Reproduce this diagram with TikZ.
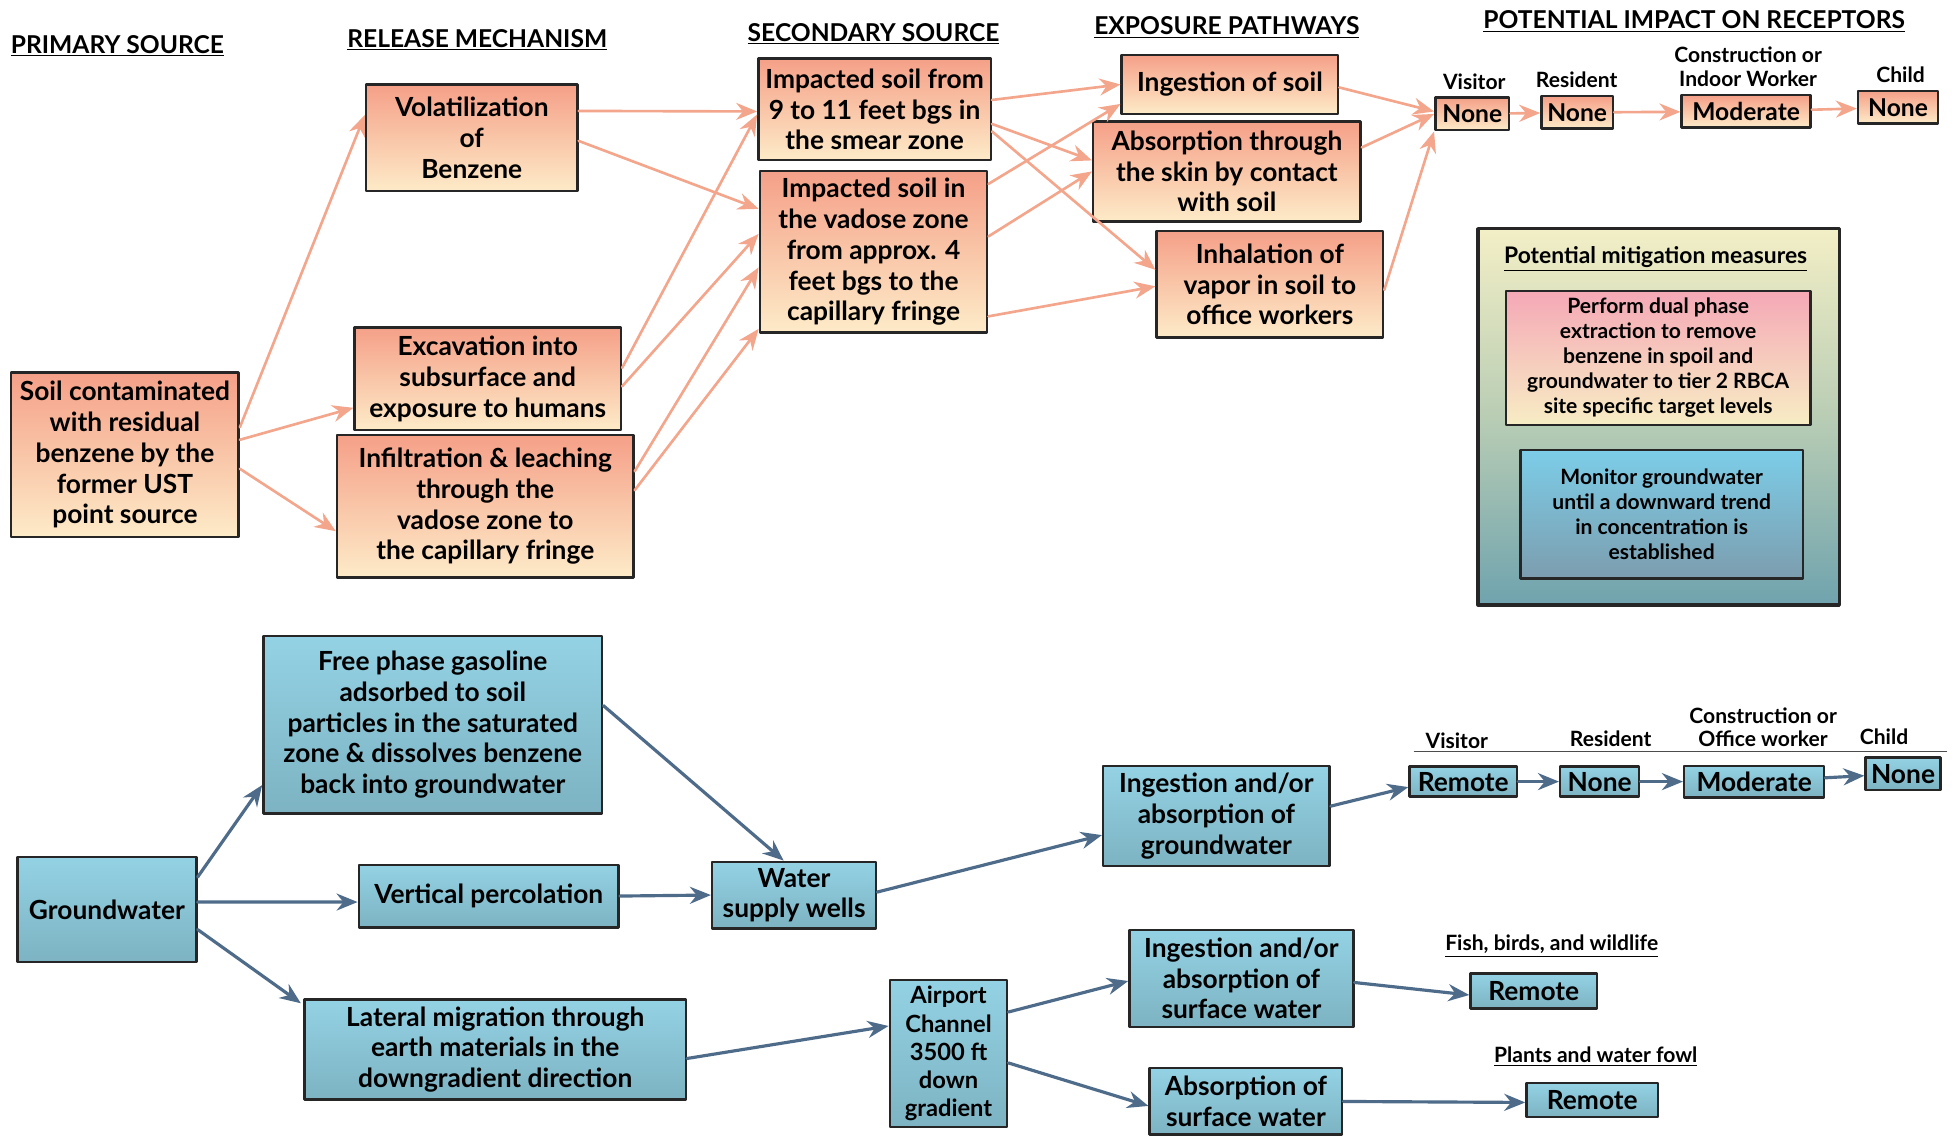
\documentclass[tikz,border=0pt]{standalone}
\usepackage{fontspec}
\setmainfont{Lato}
\usetikzlibrary{arrows.meta}
\definecolor{salmonTop}{HTML}{F5A088}
\definecolor{creamBot}{HTML}{FDEBC8}
\definecolor{waterTop}{HTML}{93D2E4}
\definecolor{waterBot}{HTML}{7DB3C2}
\definecolor{salmonLine}{HTML}{F4A68C}
\definecolor{slateLine}{HTML}{4E6C8A}
\definecolor{mitTop}{HTML}{F3EFC6}
\definecolor{mitMid}{HTML}{B9CDB4}
\definecolor{mitBot}{HTML}{6FA3AE}
\definecolor{pinkTop}{HTML}{F5A8B6}
\definecolor{pinkBot}{HTML}{F7EDC4}
\definecolor{skyTop}{HTML}{7CCDE8}
\definecolor{skyBot}{HTML}{7C9DAE}
\tikzset{
  cbox/.style={draw=black!85, line width=1.4pt, align=center, inner sep=1pt,
    font=\bfseries\fontsize{15}{17.5}\selectfont},
  soilbox/.style={cbox, top color=salmonTop, bottom color=creamBot},
  waterbox/.style={cbox, top color=waterTop, bottom color=waterBot},
  hdr/.style={font=\bfseries\fontsize{14}{16}\selectfont, inner sep=1pt},
  rlbl/.style={font=\bfseries\fontsize{12}{13.5}\selectfont, align=center, inner sep=1pt},
  sarrow/.style={draw=salmonLine, line width=1.5pt, -{Stealth[length=0.42cm,width=0.34cm]}},
  barrow/.style={draw=slateLine, line width=1.8pt, -{Stealth[length=0.42cm,width=0.34cm]}},
}
\begin{document}
\begin{tikzpicture}[line cap=round,line join=round]
  \fill[white] (0,0) rectangle (39.2,-22.8);
  \useasboundingbox (0,0) rectangle (39.2,-22.8);
  % column headers
  \node[hdr] (h1) at (2.35,-0.92) {\underline{PRIMARY SOURCE}};
  \node[hdr] (h2) at (9.55,-0.8) {\underline{RELEASE MECHANISM}};
  \node[hdr] (h3) at (17.48,-0.68) {\underline{SECONDARY SOURCE}};
  \node[hdr] (h4) at (24.55,-0.55) {\underline{EXPOSURE PATHWAYS}};
  \node[hdr] (h5) at (33.9,-0.43) {\underline{POTENTIAL IMPACT ON RECEPTORS}};
  % soil pathway
  \node[soilbox,minimum width=4.55cm,minimum height=3.3cm] (src) at (2.5,-9.1)
    {Soil contaminated\\with residual\\benzene by the\\former UST\\point source};
  \node[soilbox,minimum width=4.23cm,minimum height=2.13cm] (vol) at (9.44,-2.76)
    {Volatilization\\of\\Benzene};
  \node[soilbox,minimum width=5.33cm,minimum height=2.05cm] (exc) at (9.76,-7.58)
    {Excavation into\\subsurface and\\exposure to humans};
  \node[soilbox,minimum width=5.93cm,minimum height=2.85cm] (inf) at (9.71,-10.13)
    {Infiltration \& leaching\\through the\\vadose zone to\\the capillary fringe};
  \node[soilbox,minimum width=4.65cm,minimum height=2.03cm] (smear) at (17.5,-2.19)
    {Impacted soil from\\9 to 11 feet bgs in\\the smear zone};
  \node[soilbox,minimum width=4.55cm,minimum height=3.23cm] (vad) at (17.48,-5.04)
    {Impacted soil in\\the vadose zone\\from approx. 4\\feet bgs to the\\capillary fringe};
  \node[soilbox,minimum width=4.33cm,minimum height=1.18cm] (ing) at (24.61,-1.69)
    {Ingestion of soil};
  \node[soilbox,minimum width=5.35cm,minimum height=2cm] (abs) at (24.55,-3.43)
    {Absorption through\\the skin by contact\\with soil};
  \node[soilbox,minimum width=4.53cm,minimum height=2.13cm] (inh) at (25.41,-5.69)
    {Inhalation of\\vapor in soil to\\office workers};
  % soil receptors
  \node[rlbl] (lv) at (29.5,-1.63) {Visitor};
  \node[rlbl] (lr) at (31.55,-1.6) {Resident};
  \node[rlbl] (lw) at (34.98,-1.33) {Construction or\\Indoor Worker};
  \node[rlbl] (lc) at (38.03,-1.5) {Child};
  \node[soilbox,font=\bfseries\fontsize{14}{16}\selectfont,minimum width=1.48cm,minimum height=0.65cm] (nv) at (29.46,-2.28) {None};
  \node[soilbox,font=\bfseries\fontsize{14}{16}\selectfont,minimum width=1.43cm,minimum height=0.65cm] (nr) at (31.56,-2.25) {None};
  \node[soilbox,font=\bfseries\fontsize{14}{16}\selectfont,minimum width=2.58cm,minimum height=0.65cm] (nm) at (34.94,-2.23) {Moderate};
  \node[soilbox,font=\bfseries\fontsize{14}{16}\selectfont,minimum width=1.6cm,minimum height=0.65cm] (nc) at (37.98,-2.15) {None};
  % mitigation
  \node[draw=black!85,line width=1.8pt,top color=mitTop,bottom color=mitBot,middle color=mitMid,
    minimum width=7.23cm,minimum height=7.53cm] (mit) at (33.19,-8.34) {};
  \node[font=\bfseries\fontsize{13}{15}\selectfont,inner sep=1pt] (mtitle) at (33.13,-5.18)
    {\underline{Potential mitigation measures}};
  \node[cbox,top color=pinkTop,bottom color=pinkBot,font=\bfseries\fontsize{12}{14.2}\selectfont,
    minimum width=6.1cm,minimum height=2.68cm] (dpe) at (33.18,-7.16)
    {Perform dual phase\\extraction to remove\\benzene in spoil and\\groundwater to tier 2 RBCA\\site specific target levels};
  \node[cbox,top color=skyTop,bottom color=skyBot,font=\bfseries\fontsize{12}{14.2}\selectfont,
    minimum width=5.65cm,minimum height=2.58cm] (mon) at (33.25,-10.29)
    {Monitor groundwater\\until a downward trend\\in concentration is\\established};
  % soil arrows
  \draw[sarrow] ([yshift=0.55cm]src.east) -- ([yshift=0.46cm]vol.west);
  \draw[sarrow] ([yshift=0.3cm]src.east) -- ([yshift=-0.58cm]exc.west);
  \draw[sarrow] ([yshift=-0.28cm]src.east) -- ([yshift=-0.5cm]inf.west);
  \draw[sarrow] ([yshift=0.54cm]vol.east) -- ([yshift=-0.04cm]smear.west);
  \draw[sarrow] ([yshift=-0.06cm]vol.east) -- ([yshift=0.86cm]vad.west);
  \draw[sarrow] ([yshift=0.22cm]exc.east) -- ([yshift=-0.1cm]smear.west);
  \draw[sarrow] ([yshift=-0.15cm]exc.east) -- ([yshift=0.36cm]vad.west);
  \draw[sarrow] ([yshift=0.7cm]inf.east) -- ([yshift=-0.31cm]vad.west);
  \draw[sarrow] ([yshift=0.32cm]inf.east) -- ([yshift=-1.54cm]vad.west);
  \draw[sarrow] ([yshift=0.19cm]smear.east) -- (ing.west);
  \draw[sarrow] ([yshift=-0.29cm]smear.east) -- ([yshift=0.22cm]abs.west);
  \draw[sarrow] ([yshift=-0.44cm]smear.east) -- ([yshift=0.29cm]inh.west);
  \draw[sarrow] ([yshift=1.36cm]vad.east) -- ([yshift=-0.39cm]ing.west);
  \draw[sarrow] ([yshift=0.31cm]vad.east) -- (abs.west);
  \draw[sarrow] ([yshift=-1.29cm]vad.east) -- ([yshift=-0.04cm]inh.west);
  \draw[sarrow] ([yshift=-0.06cm]ing.east) -- ([yshift=0.05cm]nv.west);
  \draw[sarrow] ([yshift=0.48cm]abs.east) -- (nv.west);
  \draw[sarrow] ([yshift=-0.11cm]inh.east) -- (nv.south west);
  \draw[sarrow] (nv) -- (nr);
  \draw[sarrow] (nr) -- (nm);
  \draw[sarrow] (nm) -- (nc);
  % groundwater pathway
  \node[waterbox,minimum width=3.58cm,minimum height=2.1cm] (gw) at (2.14,-18.2) {Groundwater};
  \node[waterbox,minimum width=6.78cm,minimum height=3.55cm] (free) at (8.66,-14.5)
    {Free phase gasoline\\adsorbed to soil\\particles in the saturated\\zone \& dissolves benzene\\back into groundwater};
  \node[waterbox,minimum width=5.2cm,minimum height=1.25cm] (vert) at (9.78,-17.93) {Vertical percolation};
  \node[waterbox,minimum width=7.63cm,minimum height=2cm] (lat) at (9.91,-21)
    {Lateral migration through\\earth materials in the\\downgradient direction};
  \node[waterbox,minimum width=3.28cm,minimum height=1.33cm] (wells) at (15.89,-17.91)
    {Water\\supply wells};
  \node[waterbox,minimum width=2.35cm,minimum height=2.95cm,font=\bfseries\fontsize{13.5}{16}\selectfont] (air) at (18.98,-21.08)
    {Airport\\Channel\\3500 ft\\down\\gradient};
  \node[waterbox,minimum width=4.53cm,minimum height=2cm] (ingw) at (24.34,-16.33)
    {Ingestion and/or\\absorption of\\groundwater};
  \node[waterbox,minimum width=4.48cm,minimum height=1.95cm] (ingsw) at (24.84,-19.58)
    {Ingestion and/or\\absorption of\\surface water};
  \node[waterbox,minimum width=3.85cm,minimum height=1.33cm] (abssw) at (24.93,-22.04)
    {Absorption of\\surface water};
  % groundwater receptors
  \node[rlbl,anchor=base] (gv) at (29.15,-14.98) {Visitor};
  \node[rlbl,anchor=base] (gr) at (32.23,-14.93) {Resident};
  \node[rlbl] (gwk) at (35.28,-14.55) {Construction or\\Office worker};
  \node[rlbl,anchor=base] (gc) at (37.7,-14.9) {Child};
  \draw[line width=0.6pt,black!70] (28.3,-15.03) -- (38.95,-15.03);
  \node[waterbox,font=\bfseries\fontsize{15}{17}\selectfont,minimum width=2.15cm,minimum height=0.6cm] (rv) at (29.28,-15.64) {Remote};
  \node[waterbox,font=\bfseries\fontsize{15}{17}\selectfont,minimum width=1.58cm,minimum height=0.6cm] (rr) at (32.01,-15.64) {None};
  \node[waterbox,font=\bfseries\fontsize{15}{17}\selectfont,minimum width=2.8cm,minimum height=0.63cm] (rm) at (35.1,-15.64) {Moderate};
  \node[waterbox,font=\bfseries\fontsize{15}{17}\selectfont,minimum width=1.5cm,minimum height=0.65cm] (rc) at (38.08,-15.48) {None};
  \node[rlbl] (lfish) at (31.05,-18.93) {\underline{Fish, birds, and wildlife}};
  \node[waterbox,font=\bfseries\fontsize{15}{17}\selectfont,minimum width=2.53cm,minimum height=0.7cm] (rf) at (30.69,-19.83) {Remote};
  \node[rlbl] (lplant) at (31.93,-21.15) {\underline{Plants and water fowl}};
  \node[waterbox,font=\bfseries\fontsize{15}{17}\selectfont,minimum width=2.63cm,minimum height=0.68cm] (rp) at (31.86,-22.01) {Remote};
  % groundwater arrows
  \draw[barrow] ([yshift=0.65cm]gw.east) -- ([yshift=-1.21cm]free.west);
  \draw[barrow] ([yshift=0.15cm]gw.east) -- ([yshift=-0.12cm]vert.west);
  \draw[barrow] ([yshift=-0.4cm]gw.east) -- ([xshift=-0.05cm,yshift=-0.1cm]lat.north west);
  \draw[barrow] ([yshift=0.38cm]free.east) -- ([xshift=-0.21cm]wells.north);
  \draw[barrow] (vert.east) -- (wells.west);
  \draw[barrow] ([yshift=0.06cm]wells.east) -- ([yshift=-0.38cm]ingw.west);
  \draw[barrow] ([yshift=-0.18cm]lat.east) -- ([yshift=0.55cm]air.west);
  \draw[barrow] ([yshift=0.83cm]air.east) -- ([yshift=-0.05cm]ingsw.west);
  \draw[barrow] ([yshift=-0.19cm]air.east) -- ([yshift=-0.09cm]abssw.west);
  \draw[barrow] ([yshift=0.2cm]ingw.east) -- ([yshift=-0.11cm]rv.west);
  \draw[barrow] (rv) -- (rr);
  \draw[barrow] (rr) -- (rm);
  \draw[barrow] (rm) -- (rc);
  \draw[barrow] ([yshift=-0.08cm]ingsw.east) -- ([yshift=-0.08cm]rf.west);
  \draw[barrow] (abssw.east) -- ([yshift=-0.05cm]rp.west);
\end{tikzpicture}
\end{document}
